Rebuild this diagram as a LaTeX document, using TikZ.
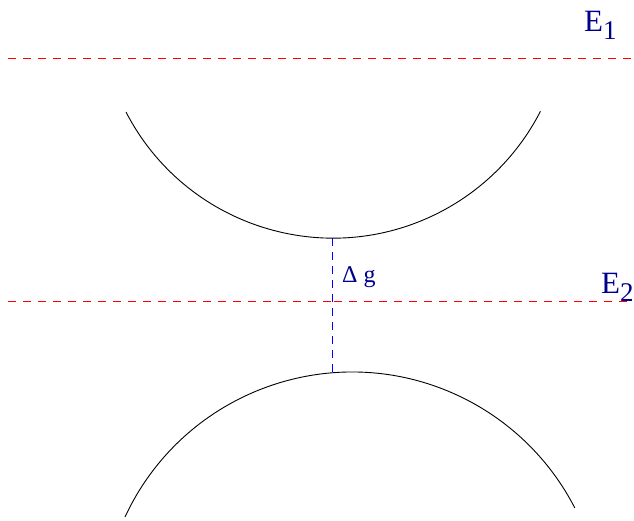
\documentclass[tikz,border=0pt]{standalone}
\usepackage{fontspec}
\setmainfont{Liberation Serif}
\definecolor{labblue}{RGB}{0,0,140}
\definecolor{lvlred}{RGB}{255,0,0}
\definecolor{gapblue}{RGB}{0,0,255}
\begin{document}
\begin{tikzpicture}[x=1pt,y=-1pt]
\tikzset{
  lvlline/.style={draw=lvlred,line width=1.2pt,dash pattern=on 8pt off 7pt},
  gapline/.style={draw=gapblue,line width=1.1pt,dash pattern=on 8pt off 6pt},
  bandline/.style={draw=black,line width=0.9pt},
  elab/.style={text=labblue,inner sep=0pt,anchor=base west,font=\fontsize{31}{31}\selectfont},
  dlab/.style={text=labblue,inner sep=0pt,anchor=base west,font=\fontsize{24}{24}\selectfont}}
\useasboundingbox (0,0) rectangle (634,521);
\coordinate (l1a) at (8,58.5);
\coordinate (l1b) at (634,58.5);
\coordinate (l2a) at (8,301.5);
\coordinate (l2m) at (331,301.5);
\coordinate (l2n) at (334,301.5);
\coordinate (l2b) at (634,301.5);
\coordinate (ua) at (126,112);
\coordinate (la) at (125,517);
\coordinate (gtop) at (332.5,238);
\coordinate (gbot) at (332.5,373);
% energy levels
\path[lvlline] (l1a) -- (l1b);
\path[lvlline] (l2a) -- (l2m);
\path[lvlline] (l2n) -- (l2b);
% upper band: circle centre (333,5), radius 233
\path[bandline] (ua) arc[start angle=-152.7,end angle=-27.1,radius=233pt];
% lower band: circle centre (352.2,622.3), radius 250.4
\path[bandline] (la) arc[start angle=155.1,end angle=27.2,radius=250.4pt];
% gap
\path[gapline] (gtop) -- (gbot);
% labels
\node[elab] (e1) at (584,32) {E\raisebox{-8pt}{\fontsize{27}{27}\selectfont 1}};
\node[elab] (e2) at (601,293) {E\raisebox{-9pt}{\fontsize{27}{27}\selectfont 2}};
\node[dlab] (dg) at (342,282) {Δ g};
\end{tikzpicture}
\end{document}
